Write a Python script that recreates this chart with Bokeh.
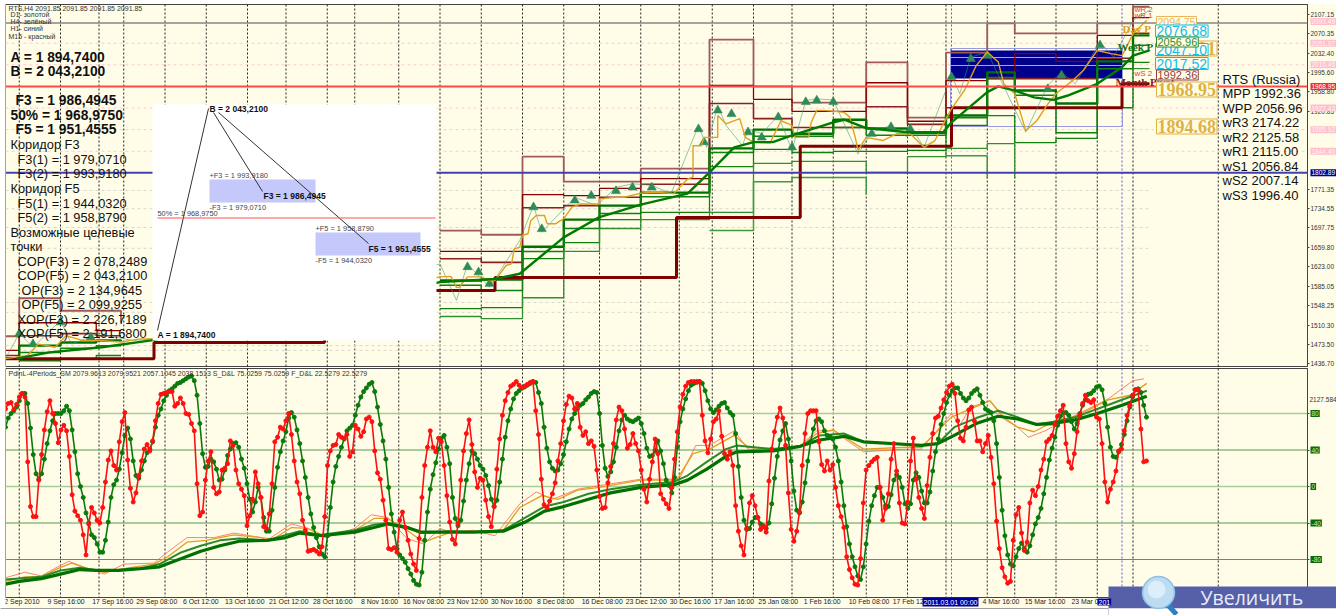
from bokeh.embed import file_html
from bokeh.resources import INLINE
from bokeh.plotting import figure
from bokeh.layouts import column
from bokeh.models import Label, Span, FixedTicker, Range1d

nan = float("nan")
CREAM = "#FFFDE8"

# ---------- data: price panel ----------
PRICE_TICKS = [2107.15, 2070.35, 2032.40, 1995.60, 1958.80, 1920.85, 1771.35, 1734.55, 1697.75, 1659.80,
               1623.00, 1585.05, 1548.25, 1510.30, 1473.50, 1436.70]
PINK_LEVELS = [2093.49, 2051.97, 2010.46, 1927.43, 1885.92, 1844.40]
FAINT_LEVELS = [1769, 1734, 1698, 1658, 1554, 1535, 1471, 1462]
GRID_BARS = [5, 20, 34, 43, 58, 73, 88, 102, 117, 127, 143, 158, 173, 188, 203, 216, 231, 245, 257, 272, 286, 301,
             313, 328, 342, 357, 367, 382, 397, 410, 441]
BLUE_GRID_BARS = [344, 406]

WEEK_EDGES = [0, 5, 20, 33, 42, 53, 158, 173, 188, 203, 216, 231, 244, 256, 272, 286, 301, 313, 328, 342, 357, 367,
              382, 397, 410, 416]
R3 = [1489, 1562, 1538, 1538, 1515, nan, 1692, 1684, 1834, 1786, 1786, 1811, 1811, 2059, 1969, 1938, 1938, 2015, 1909,
      2034, 2090, 2071, 2071, 2090, 2122]
R2 = [1462, 1515, 1515, 1500, 1500, nan, 1652, 1652, 1761, 1759, 1773, 1792, 1792, 1971, 1944, 1921, 1921, 1976, 1902,
      1980, 1984, 2032, 2017, 2067, 2101]
R1 = [1452, 1490, 1494, 1490, 1490, nan, 1638, 1631, 1736, 1740, 1756, 1781, 1781, 1936, 1907, 1890, 1890, 1930, 1896,
      1928, 1984, 1984, 1984, 2023, 2071]
G1 = [1446, 1471, 1477, 1481, 1479, nan, 1596, 1598, 1661, 1713, 1740, 1765, 1765, 1850, 1886, 1878, 1905, 1888, 1880,
      1913, 1996, 1961, 1936, 2017, 2067]
G2 = [nan, 1458, 1466, 1471, 1471, nan, 1587, 1577, 1652, 1696, 1725, 1757, 1757, 1842, 1873, 1873, 1890, 1875, 1875,
      1909, 1986, 1952, 1880, 2003, 2048]
G3 = [nan, 1442, 1446, 1452, 1452, nan, 1542, 1544, 1638, 1669, 1713, 1727, 1727, 1815, 1848, 1842, 1844, 1844, 1846,
      1894, 1913, 1861, 1869, 1928, 2015]
G4 = [nan, nan, nan, nan, nan, nan, 1527, 1523, 1563, 1652, 1696, 1713, 1713, 1727, 1821, 1825, 1825, 1804, 1834,
      1850, 1859, 1792, nan, nan, 2003]
G5 = [nan, nan, nan, nan, nan, nan, nan, nan, 1538, nan, nan, nan, nan, 1692, 1786, 1794, 1794, 1761, nan,
      1836, 1792, nan, nan, nan, nan]

MONTH_EDGES = [0, 54, 116, 178, 244, 289, 344, 406, 416]
MONTH_PIVOT = [1446, 1477, 1577, 1602, 1717, 1854, 1928, 1974]

TREND_BARS = [4, 16, 35, 53, 158, 178, 187, 203, 216, 231, 248, 256, 265, 272, 279, 286, 301, 305, 313, 328, 329, 341,
              344, 357, 361, 367, 374, 381, 386, 397, 406, 410, 416]
TREND = [1446, 1458, 1468, 1481, 1593, 1599, 1609, 1679, 1718, 1742, 1763, 1804, 1852, 1862, 1862, 1875, 1900, 1905,
         1889, 1881, 1881, 1881, 1900, 1958, 1969, 1961, 1948, 1943, 1951, 1974, 2006, 2028, 2038]

GOLD_BARS = [0, 4, 8, 12, 18, 22, 28, 34, 42, 49, 53,
             158, 162, 164, 165, 168, 173, 176, 178, 179, 182, 184, 185, 187, 188, 190, 191, 193, 196, 197, 200, 203,
             206, 209, 216, 216, 222, 225, 231, 236, 243, 248, 250, 250, 253, 254, 259, 259, 262, 267, 269, 272, 278,
             279, 282, 286, 287, 292, 293, 295, 298, 305, 307, 309, 310, 313, 319, 324, 329,
             334, 338, 341, 344, 349, 353, 357, 361, 363, 367, 371, 375, 379, 382, 388, 392, 397, 402, 406, 410, 415]
GOLD = [1446, 1449, 1452, 1474, 1468, 1490, 1481, 1481, 1478, 1484, 1484,
        1603, 1604, 1583, 1583, 1603, 1603, 1596, 1596, 1603, 1625, 1628, 1657, 1660, 1683, 1686, 1711, 1721, 1721,
        1705, 1705, 1715, 1737, 1743, 1743, 1753, 1756, 1756, 1764, 1766, 1763, 1791, 1795, 1855, 1855, 1871, 1871,
        1913, 1897, 1907, 1871, 1862, 1860, 1871, 1903, 1894, 1871, 1871, 1900, 1923, 1923, 1919, 1910, 1871, 1846,
        1871, 1865, 1878, 1878,
        1852, 1865, 1897, 1926, 1964, 2009, 2035, 2016, 1974, 1955, 1884, 1903, 1935, 1955, 1980, 2000, 2038, 2032,
        2028, 2070, 2096]

ZIG_BARS = [0, 5, 10, 20, 24, 34, 46, 55, 158, 164, 168, 176, 187, 192, 195, 207, 215, 222, 228, 235, 242, 252, 255,
            259, 262, 268, 270, 275, 281, 286, 291, 295, 301, 310, 315, 322, 328, 329, 334, 344, 347, 351, 357, 371,
            379, 384, 389, 398, 403, 410, 416]
ZIG = [1446, 1494, 1468, 1519, 1474, 1494, 1481, 1484, 1628, 1558, 1628, 1583, 1673, 1740, 1689, 1756, 1740, 1775,
       1782, 1779, 1763, 1894, 1852, 1932, 1894, 1855, 1887, 1878, 1913, 1846, 1942, 1945, 1943, 1839, 1881, 1894,
       1871, 1894, 1852, 1990, 1955, 2025, 2035, 1881, 1971, 1996, 1974, 2054, 2025, 2096, 2115]

ARROW_BARS = [5, 10, 20, 31, 168, 172, 176, 192, 195, 207, 213, 222, 228, 235, 252, 254, 259, 264, 270, 275, 281, 286,
              291, 295, 301, 315, 322, 329, 344, 351, 357, 379, 384, 398]
ARROWS = [1494, 1474, 1516, 1487, 1622, 1612, 1590, 1737, 1695, 1750, 1759, 1768, 1775, 1775, 1887, 1862, 1923, 1916,
          1881, 1871, 1910, 1852, 1939, 1942, 1939, 1878, 1891, 1887, 1987, 2022, 2028, 1964, 1990, 2048]

# ---------- data: oscillator panel (one value per bar) ----------
OSC_TICKS = [80, 40, 0, -40, -80]
RED = [85, 91, 92, 84, 90, 98, 102, 98, 27, -22, -33, -33, 7, 35, 62, 82, 94, 80, 69, 48, 62, 67, 61, 33, -9, -27, -32,
       -37, -53, -75, -41, -23, -29, -37, -40, -23, 5, 29, 39, 23, 18, 49, 71, 81, 29, -2, -17, -7, 12, 28, 41, 46, 39,
       50, 72, 91, 101, 102, 103, 104, 104, 88, 91, 97, 91, 80, 79, 69, 61, 3, -32, -28, 7, 28, 38, -1, -8, -6, 18, 20,
       25, 50, 45, 18, 3, -3, -10, -43, -32, -14, 16, 3, -12, -44, -46, -30, 3, 49, 54, 65, 63, 72, 80, 57, 28, 5, -8,
       -37, -48, -71, -70, -69, -71, -74, -66, -33, 23, 39, 45, 46, 57, 54, 53, 57, 33, 38, 67, 63, 55, 60, 74, 76, 71,
       39, 15, 8, -15, -37, -68, -69, -67, -72, -37, -28, -45, -59, -74, -85, -92, -57, -12, 23, 43, 61, 43, 38, 53,
       49, 23, -10, -39,
       -58, -63, -41, 7, 39, 58, 73, 46, 16, -1, 9, 7, -15, -33, -44, -22, 19, 52, 78, 94, 103, 110, 112, 115, 111,
       108, 110, 112, 114, 115, 83, 57, 8, -20, -23, -16, -8, 4, 28, 47, 72, 90, 99, 97, 85, 91, 65, 56, 60, 47, 50,
       44, 18, -11, -24, -23, 4, 22, 47, 73, 87, 83, 63, 42, 46, 58, 47, 39, 18, -3, -17, 8, 27, 52, 36, -8, -14, -19,
       -24, -1, 30, 60, 87, 101, 110, 114, 115, 115, 114, 115, 78, 50, 37, 52, 71, 74, 83, 55, 36, 30, 38, 23, -21,
       -49, -65, -75, -46, -18, -10, -21, -34, -47, -44, -50, 6, 41, 60, 76, 86, 75, 45, -7, -47, -60, -49, -28, 23,
       58, 80, 83, 83, 83, 49, 24, 17, 28, 18, 24, -1, -21, -33, -45, -77, -91, -100, -107, -108, -79, -18, 18, 23, 27,
       30, 32, -1, -37, -24, -8, 30, 47, 17, -18, -40, -41, -17, 28,
       53, 8, -12, -24, -35, 1, 32, 58, 75, 77, 86, 95, 103, 110, 112, 102, 72, 53, 50, 65, 84, 87, 72, 50, 50, 38, 47,
       56, 32, 3, -38, -68, -89, -99, -106, -104, -59, -31, -23, -51, -70, -61, -18, -4, -10, 0, 18, 30, 49, 52, 56,
       68, 77, 83, 89, 47, 27, 20, 36, 60, 78, 91, 100, 94, 92, 95, 76, 74, 47, 5, -17, -3, 5, 17, 39, 41, 61, 78, 89,
       100, 106, 106, 63, 27, 28]
GREEN = [65, 75, 80, 83, 87, 94, 102, 102, 91, 64, 35, 14, 8, 14, 30, 47, 61, 72, 80, 80, 80, 83, 88, 83, 62, 38, 14,
         0, -12, -29, -40, -53, -56, -63, -72, -72, -59, -39, -12, 2, 7, 19, 37, 56, 64, 52, 28, 12, 9, 18, 28, 37, 41,
         49, 65, 78, 85, 94, 100, 105, 107, 110, 113, 114, 116, 118, 120, 121, 116, 100, 69, 36, 21, 22, 30, 27, 19, 7,
         8, 18, 34, 41, 47, 48, 43, 30, 20, 3, -14, -28, -17, -1, -12, -34, -49, -49, -26, -1, 21, 38, 50, 60, 75, 81,
         76, 62, 47, 28, 10, -12, -30, -45, -56, -66, -74, -77, -54, -23, 5, 22, 33, 43, 52, 61, 64, 67, 78, 89, 98,
         104, 108, 112, 114, 104, 87, 68, 50, 30, -1, -30, -50, -68, -75, -79, -83, -90, -96, -103, -107, -108, -94,
         -59, -28, -3, 13, 26, 41, 53, 56, 43, 25,
         -12, -35, -43, -37, -16, 7, 25, 39, 36, 30, 23, 19, 12, 1, -14, -22, -15, 5, 30, 54, 72, 85, 96, 102, 105,
         108, 109, 111, 113, 115, 114, 103, 91, 65, 42, 27, 20, 17, 18, 25, 35, 49, 63, 74, 80, 85, 89, 91, 95, 98,
         102, 104, 103, 80, 45, 20, 11, 16, 27, 43, 61, 73, 78, 74, 72, 71, 73, 75, 69, 58, 42, 33, 34, 39, 50, 39, 25,
         7, 1, -7, 10, 43, 71, 85, 96, 105, 111, 113, 115, 115, 113, 105, 94, 85, 81, 84, 88, 91, 92, 86, 81, 78, 58,
         22, -12, -37, -47, -46, -39, -34, -34, -41, -43, -46, -40, -19, 9, 33, 51, 61, 69, 52, 28, -5, -26, -29, -17,
         4, 28, 49, 63, 72, 74, 71, 61, 56, 55, 52, 43, 28, 5, -21, -44, -63, -77, -88, -98, -102, -88, -63, -38, -21,
         -10, -1, -1, -12, -21, -22, -9, 7, 13, 10, -1, -19, -24, -19,
         7, 15, 10, -5, -18, -18, -6, 17, 38, 52, 68, 80, 92, 100, 105, 108, 108, 102, 97, 94, 97, 102, 105, 107, 100,
         92, 85, 83, 81, 72, 47, 10, -26, -54, -75, -85, -87, -77, -68, -62, -68, -72, -65, -53, -41, -34, -24, -8, 10,
         29, 42, 54, 67, 77, 81, 81, 78, 71, 63, 69, 80, 89, 95, 101, 102, 105, 109, 110, 106, 91, 65, 43, 33, 32, 38,
         46, 57, 72, 87, 98, 106, 107, 103, 89, 76]

MA_SLOW_BARS = [0, 5, 13, 20, 27, 33, 41, 49, 56, 64, 71, 78, 85, 95, 102, 107, 115, 127, 134, 139, 146, 151, 162, 170,
                181, 189, 196, 203, 212, 220, 231, 243, 248, 255, 262, 266, 279, 289, 296, 305, 312, 328, 333, 339, 345,
                353, 361, 368, 375, 381, 389, 397, 406, 415]
MA_SLOW = [-107, -104, -101, -96, -91, -92, -92, -90, -88, -79, -71, -65, -60, -59, -56, -51, -54, -50, -45, -41, -45,
           -50, -50, -50, -49, -39, -27, -22, -14, -7, -1, 2, 7, 19, 33, 38, 39, 44, 51, 55, 49, 46, 45, 47, 56, 69, 77,
           74, 68, 69, 73, 80, 89, 99]
MA_MID_BARS = [0, 13, 20, 27, 34, 41, 49, 56, 64, 71, 78, 85, 95, 102, 107, 115, 127, 134, 139, 146, 151, 162, 170, 181,
               189, 196, 203, 212, 220, 231, 243, 248, 255, 262, 266, 279, 289, 296, 305, 312, 328, 333, 339, 345, 353,
               361, 368, 375, 381, 389, 397, 406, 415]
MA_MID = [-102, -99, -92, -89, -92, -92, -90, -85, -72, -65, -59, -57, -59, -53, -49, -53, -48, -42, -40, -44, -51, -49,
          -50, -48, -34, -22, -17, -8, -3, 2, 5, 12, 27, 41, 45, 41, 44, 56, 58, 49, 46, 45, 47, 65, 75, 83, 76, 68, 71,
          76, 85, 95, 105]
MA_GOLD_BARS = [0, 7, 13, 19, 24, 30, 36, 43, 54, 59, 66, 73, 83, 93, 96, 104, 110, 116, 127, 134, 139, 146, 152, 162,
                170, 181, 187, 195, 201, 208, 216, 231, 244, 250, 256, 265, 270, 279, 289, 295, 301, 312, 328, 333, 344,
                351, 358, 363, 368, 374, 381, 390, 401, 409, 415]
MA_GOLD = [-104, -99, -99, -90, -84, -90, -94, -90, -85, -77, -61, -59, -53, -56, -60, -45, -46, -54, -48, -35, -35,
           -48, -61, -50, -49, -48, -23, -10, -14, -4, -1, 7, 7, 36, 41, 56, 43, 41, 44, 58, 62, 41, 43, 43, 76, 85, 94,
           76, 65, 60, 71, 78, 95, 100, 113]
MA_THIN_BARS = [0, 7, 13, 19, 23, 30, 36, 43, 54, 58, 66, 76, 83, 93, 96, 104, 110, 116, 127, 133, 139, 146, 152, 158,
                162, 170, 178, 187, 193, 199, 208, 216, 231, 245, 251, 256, 265, 270, 279, 289, 295, 301, 312, 328, 333,
                344, 347, 351, 358, 363, 368, 372, 378, 389, 401, 410, 414]
MA_THIN = [-100, -94, -98, -88, -82, -90, -96, -85, -84, -74, -56, -56, -51, -56, -57, -41, -46, -56, -46, -31, -34,
           -57, -63, -46, -50, -48, -54, -19, -6, -14, -3, 1, 8, 8, 45, 45, 61, 41, 39, 45, 61, 61, 38, 41, 41, 80, 67,
           87, 94, 74, 65, 54, 61, 78, 96, 116, 118]

X_LABEL_BARS = [6, 22, 39, 55, 71, 87, 103, 119, 136, 152, 168, 184, 200, 217, 233, 249, 265, 281, 297, 314, 330, 362,
                378, 395]
X_LABELS = ["2 Sep 2010", "9 Sep 16:00", "17 Sep 16:00", "29 Sep 08:00", "6 Oct 12:00", "13 Oct 16:00", "21 Oct 12:00",
            "28 Oct 16:00", "8 Nov 16:00", "16 Nov 08:00", "23 Nov 12:00", "30 Nov 16:00", "8 Dec 08:00",
            "16 Dec 08:00", "23 Dec 12:00", "30 Dec 16:00", "17 Jan 16:00", "25 Jan 08:00", "1 Feb 16:00",
            "10 Feb 08:00", "17 Feb 12:00", "4 Mar 16:00", "15 Mar 16:00", "23 Mar 08:00"]

# ---------- texts ----------
LEFT_TEXT = [("A = 1 894,7400", 10, 57, True), ("B = 2 043,2100", 10, 71, True),
             ("F3 = 1 986,4945", 15, 100, True), ("50% = 1 968,9750", 10, 115, True),
             ("F5 = 1 951,4555", 15, 129, True), ("Коридор F3", 10, 144, False),
             ("F3(1) = 1 979,0710", 17, 159, False), ("F3(2) = 1 993,9180", 17, 173, False),
             ("Коридор F5", 10, 188, False), ("F5(1) = 1 944,0320", 17, 203, False),
             ("F5(2) = 1 958,8790", 17, 217, False), ("Возможные целевые", 10, 232, False), ("точки", 10, 246, False),
             ("COP(F3) = 2 078,2489", 17, 261, False), ("COP(F5) = 2 043,2100", 17, 275, False),
             ("OP(F3) = 2 134,9645", 21, 290, False), ("OP(F5) = 2 099,9255", 21, 304, False),
             ("XOP(F3) = 2 226,7189", 17, 319, False), ("XOP(F5) = 2 191,6800", 17, 333, False)]
RIGHT_TEXT = ["RTS (Russia)", "MPP 1992.36", "WPP 2056.96", "wR3 2174.22", "wR2 2125.58", "wR1 2115.00", "wS1 2056.84",
              "wS2 2007.14", "wS3 1996.40"]
INFO_TEXT = [("RTS,H4  2091.85 2091.85 2091.85 2091.85", 8, 8), ("D1- золотой", 10, 14), ("H4- зелёный", 10, 21),
             ("H1- синий", 10, 28), ("M15 - красный", 8, 36)]
BOX_TEXT = [("B = 2 043,2100", 209, 108, True), ("+F3 = 1 993,9180", 209, 175, False), ("F3 = 1 986,4945", 263, 195, True),
            ("-F3 = 1 979,0710", 209, 207, False), ("50% = 1 968,9750", 157, 213, False),
            ("+F5 = 1 958,8790", 315, 228, False), ("F5 = 1 951,4555", 368, 248, True),
            ("-F5 = 1 944,0320", 315, 260, False), ("A = 1 894,7400", 157, 334, True)]

# ---------- mapping of picture layout to the two panels ----------
BAR_STEP = 1.0095
def bar_of(px):
    return (px - 5) / 2.75
def price_of(y):
    return 2134 - 1.921 * y
def y_of_price(v):
    return (2134 - v) / 1.921
def osc_of(y):
    return (486 - y) / 0.9125
def y_of_osc(v):
    return 486 - v * 0.9125

SANS = "Liberation Sans"
SERIF = "Liberation Serif"

def make(height, yr, top, bottom):
    f = figure(width=1336, height=height, x_range=Range1d(0, bar_of(1307)), y_range=yr, y_axis_location="right",
               toolbar_location=None, output_backend="svg", min_border_left=5, min_border_right=29,
               min_border_top=top, min_border_bottom=bottom, background_fill_color=CREAM,
               border_fill_color=CREAM, outline_line_color="#444444")
    f.grid.visible = False
    f.yaxis.major_tick_out = 2
    f.yaxis.major_tick_in = 0
    f.yaxis.minor_tick_out = 0
    f.yaxis.minor_tick_in = 0
    f.yaxis.major_label_standoff = 1
    f.yaxis.axis_line_color = "#444444"
    f.yaxis.major_tick_line_color = "#444444"
    return f

p1 = make(367, Range1d(price_of(366), price_of(4)), 4, 1)
p2 = make(248, Range1d(osc_of(597), osc_of(368)), 1, 18)

# a clear sheet over the whole page, in page pixels, for what lies outside the two frames
p3 = figure(width=1336, height=615, x_range=Range1d(0, 1336), y_range=Range1d(615, 0), x_axis_type=None,
            y_axis_type=None, toolbar_location=None, output_backend="svg", min_border=0, background_fill_color=None,
            border_fill_color=None, outline_line_color=None, margin=(-615, 0, 0, 0), frame_align=False)
p3.grid.visible = False

def lab(f, text, px, py, size, color="#000000", bold=False, font=SANS, bg=None, border=None, align="left", pad=0):
    l = Label(x=px, y=py, text=text, text_font=font, text_font_size=f"{size}px", text_color=color,
              text_font_style="bold" if bold else "normal", text_baseline="middle", text_align=align,
              background_fill_color=bg, border_line_color=border, padding=pad)
    f.add_layout(l)
    return l

def box(x0, x1, y0, y1, color, line=None):
    p3.quad(left=x0, right=x1, top=y0, bottom=y1, fill_color=color, line_color=line)

# vertical grid in both panels
for f in (p1, p2):
    for b in GRID_BARS:
        f.add_layout(Span(location=b, dimension="height", line_color="#222222", line_width=1, line_dash="2 2",
                          level="underlay"))
    for b in BLUE_GRID_BARS:
        f.add_layout(Span(location=b, dimension="height", line_color="#5a5ad0", line_width=1, line_dash="2 2",
                          level="underlay"))

# ---------- price panel ----------
for lv in PINK_LEVELS[1:]:
    p1.add_layout(Span(location=lv, dimension="width", line_color="#ffc8d0", line_width=1, line_dash="3 3",
                       level="underlay"))
p1.segment(x0=[0] * len(FAINT_LEVELS), x1=[416] * len(FAINT_LEVELS), y0=FAINT_LEVELS, y1=FAINT_LEVELS,
           line_color="#d8d8cc", line_width=1, line_dash="3 3")
p1.add_layout(Span(location=2091, dimension="width", line_color="#8a8580", line_width=1.5))

p1.quad(left=bar_of(950), right=bar_of(1122), top=price_of(50), bottom=price_of(78), fill_color="#00008c",
        line_color=None)
p1.quad(left=bar_of(950), right=bar_of(1122), top=price_of(48), bottom=price_of(126), fill_color=None,
        line_color="#9a9ae0", line_width=1)
p1.segment(x0=[bar_of(950)] * 2, x1=[bar_of(1122)] * 2, y0=[price_of(57), price_of(65)], y1=[price_of(57), price_of(65)],
           line_color="#a8a8d8", line_width=1)

for s, c, w in ((R3, "#a05a5a", 1.8), (R2, "#8b0000", 1.3), (R1, "#8b2020", 1.6)):
    p1.step(WEEK_EDGES, s + [s[-1]], mode="after", line_color=c, line_width=w)
for s, c, w in ((G1, "#007000", 2.4), (G2, "#108010", 1.5), (G3, "#108010", 1.3), (G4, "#2f902f", 1.3),
                (G5, "#3f9a3f", 1.5)):
    p1.step(WEEK_EDGES, s + [s[-1]], mode="after", line_color=c, line_width=w)
p1.step(MONTH_EDGES, MONTH_PIVOT + [MONTH_PIVOT[-1]], mode="after", line_color="#800000", line_width=3)
p1.line(ZIG_BARS, ZIG, line_color="#3a9a70", line_width=0.8, line_alpha=0.7)
p1.scatter(ARROW_BARS, ARROWS, marker="triangle", size=9, fill_color="#2e8b57", line_color="#2e8b57", line_alpha=0.6)
p1.line(GOLD_BARS, GOLD, line_color="#e0a020", line_width=1.4)
p1.line(TREND_BARS, TREND, line_color="#007a00", line_width=2.4)

p1.add_layout(Span(location=1968.95, dimension="width", line_color="#ff4a4a", line_width=2))
p1.add_layout(Span(location=1802.89, dimension="width", line_color="#4040b0", line_width=2))

p1.xaxis.visible = False
p1.yaxis.ticker = FixedTicker(ticks=PRICE_TICKS)
p1.yaxis.major_label_overrides = {v: f"{v:.2f}" for v in PRICE_TICKS}
p1.yaxis.major_label_text_font = SANS
p1.yaxis.major_label_text_font_size = "6.5px"
p1.yaxis.major_label_text_color = "#333333"

# ---------- oscillator panel ----------
for v in OSC_TICKS:
    light = v in (80, 0)
    p2.add_layout(Span(location=v, dimension="width", line_color="#a8cc98" if light else "#5a9a50",
                       line_width=1.5 if light else 1.2, level="underlay"))
p2.line(MA_THIN_BARS, MA_THIN, line_color="#ff6050", line_width=0.8)
p2.line(MA_GOLD_BARS, MA_GOLD, line_color="#e0a020", line_width=1.3)
p2.line(MA_MID_BARS, MA_MID, line_color="#2a8a2a", line_width=2)
p2.line(MA_SLOW_BARS, MA_SLOW, line_color="#007000", line_width=3.2)
gx = [i * BAR_STEP for i in range(len(GREEN))]
rx = [i * BAR_STEP for i in range(len(RED))]
p2.line(gx, GREEN, line_color="#0a7a0a", line_width=1.6)
p2.scatter(gx, GREEN, size=4, fill_color="#0a7a0a", line_color="#0a7a0a")
p2.line(rx, RED, line_color="#ff1010", line_width=1.6)
p2.scatter(rx, RED, size=4, fill_color="#ff1010", line_color="#ff1010")

p2.yaxis.ticker = FixedTicker(ticks=OSC_TICKS)
p2.yaxis.major_label_overrides = {v: " " for v in OSC_TICKS}
p2.yaxis.major_label_text_font_size = "6.5px"
p2.xaxis.ticker = FixedTicker(ticks=X_LABEL_BARS)
p2.xaxis.major_label_overrides = dict(zip(X_LABEL_BARS, X_LABELS))
p2.xaxis.major_label_text_font = SANS
p2.xaxis.major_label_text_font_size = "6.9px"
p2.xaxis.major_label_text_color = "#222222"
p2.xaxis.major_tick_out = 0
p2.xaxis.major_tick_in = 0
p2.xaxis.minor_tick_out = 0
p2.xaxis.minor_tick_in = 0
p2.xaxis.major_label_standoff = 0
p2.xaxis.axis_line_color = "#444444"

# ---------- sheet over the page ----------
# page edge, white analysis box, bottom strip, banner
box(-5, 5, -5, 367, "#ffffff")
box(-5, 1340, -5, 3.5, "#ffffff")
box(-5, 5, 367, 620, "#ffffff")
box(152, 436, 104, 340, "#ffffff")
box(209, 315, 179, 202, "#c4c8fa")
box(315, 420, 232, 255, "#c4c8fa")
p3.segment(x0=[157, 213, 218, 157], x1=[208, 262, 368, 435], y0=[330, 112, 112, 217.5], y1=[108, 191, 243, 217.5],
           line_color=["#333333", "#333333", "#333333", "#ff5050"], line_width=1)
box(-5, 1108, 608, 620, "#ffffff", line="#a0a0a0")
box(1108, 1345, 586, 608, "#5660a8")
box(1108, 1345, 608, 620, "#ffffff")
p3.line([1167, 1176], [604, 614], line_color="#2f80c0", line_width=5)
p3.circle(x=[1158], y=[592], radius=16, fill_color="#bcdcf2", line_color="#8cc0e4", line_width=1.5)
p3.circle(x=[1156], y=[589], radius=9, fill_color="#dceefa", line_color=None)

for t, x, y, b in BOX_TEXT:
    lab(p3, t, x, y, 8.5 if b else 7.4, bold=b, color="#111111" if b else "#444444")
for t, x, y, b in LEFT_TEXT:
    lab(p3, t, x, y, 13.8 if b else 12.8, bold=b, color="#111111")
for t, x, y in INFO_TEXT:
    lab(p3, t, x, y, 7, color="#333333")

lab(p3, "wR 2", 1134, 9, 8, color="#e04040")
lab(p3, "wR 1", 1134, 15, 8, color="#e04040")
lab(p3, "Day P", 1122, 28, 11, color="#d8a020", font=SERIF, bold=True)
lab(p3, "Week P", 1117, 46, 11, color="#207020", font=SERIF, bold=True)
lab(p3, "wS 2", 1134, 73, 8, color="#e04040")
lab(p3, "Month Pivot", 1115, 81, 11, color="#802020", font=SERIF, bold=True)

def tag(t, px, py, size, color, font=SANS, bold=False):
    lab(p3, t, px, py, size, color=color, font=font, bold=bold, bg=CREAM, border=color, pad=1)

tag("2094.75", 1156, 21, 10.5, "#e8b860")
tag("2031.21", 1156, 48, 18, "#e0b040", SERIF, True)
tag("2076.68", 1155, 30.5, 14, "#10bcf0")
tag("2047.10", 1155, 49, 14, "#10bcf0")
tag("2056.96", 1156, 41.5, 11, "#2f8a2f")
tag("2017.52", 1155, 63, 14, "#10bcf0")
tag("1992.36", 1156, 74.5, 11, "#904040")
tag("1968.95", 1156, 89, 18, "#e0b040", SERIF, True)
tag("1894.68", 1156, 126, 18, "#e0b040", SERIF, True)
for i, t in enumerate(RIGHT_TEXT):
    lab(p3, t, 1222, 78.5 + i * 14.55, 13, color="#111111")

for lv in PINK_LEVELS:
    lab(p3, f"{lv:.2f}", 1310, y_of_price(lv), 6.5, color="#fff4f6", bg="#ffc0cb", pad=1)
lab(p3, "1968.95", 1310, y_of_price(1968.95), 6.5, color="#ffffff", bg="#f03030", pad=1)
lab(p3, "1802.89", 1310, y_of_price(1802.89), 6.5, color="#ffffff", bg="#000090", pad=1)

lab(p3, "PdinL-4Periods_SM 2079.9613 2079.9521 2057.1045 2038.1513  S_D&L 75.0259 75.0259  F_D&L 22.5279 22.5279",
    8, 373, 7, color="#333333")
lab(p3, "2127.584", 1309, 399, 6.5, color="#333333")
for v in OSC_TICKS:
    lab(p3, str(v), 1310, y_of_osc(v), 6.5, color="#c8ecc0", bg="#0a6a0a", pad=1)
lab(p3, "2011.03.01 00:00", 950, 601.5, 7, color="#ffffff", bg="#0000a0", align="center", pad=1)
lab(p3, "201", 1097, 601.5, 7, color="#ffffff", bg="#0000a0", pad=1)
lab(p3, "Увеличить", 1200, 597, 19.5, color="#e8ecf8", font="Open Sans")

root = column(p1, p2, p3, spacing=0)
open("out.html", "w").write(file_html(root, INLINE))
